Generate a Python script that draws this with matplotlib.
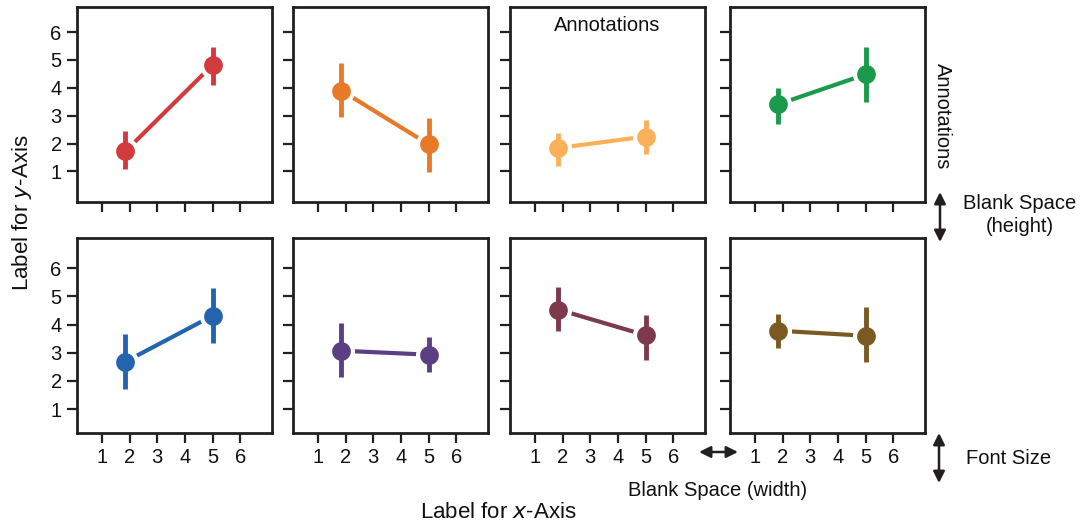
import matplotlib
matplotlib.use("Agg")
import matplotlib.pyplot as plt

plt.rcParams['font.family'] = ['Liberation Sans', 'DejaVu Sans']

# x positions of the two conditions
x_vals = [1.85, 5.0]

# one entry per panel, row by row
colors = ['#D23A3E', '#E77A28', '#FDB05A', '#1A9A4A',
          '#2265AE', '#5B3F84', '#7C3A4C', '#7A5A22']
means = [[1.72, 4.82], [3.90, 1.97], [1.84, 2.25], [3.41, 4.48],
         [2.68, 4.31], [3.07, 2.93], [4.53, 3.62], [3.78, 3.60]]
err_lo = [[1.07, 4.10], [2.95, 0.98], [1.20, 1.64], [2.69, 3.50],
          [1.71, 3.33], [2.13, 2.32], [3.76, 2.74], [3.16, 2.67]]
err_hi = [[2.44, 5.48], [4.90, 2.92], [2.38, 2.84], [3.99, 5.45],
          [3.66, 5.28], [4.05, 3.54], [5.34, 4.32], [4.38, 4.62]]

tick_vals = [1, 2, 3, 4, 5, 6]
ylims = [(-0.1, 6.9), (0.15, 7.07)]

W, H = 1081, 529
fig = plt.figure(figsize=(W / 100, H / 100), dpi=100)

col_left = [77, 293, 510, 730]
row_top = [7, 238]
ax_w, ax_h = 195, 195
ink = '#231F20'

for r in range(2):
    for c in range(4):
        i = r * 4 + c
        ax = fig.add_axes([col_left[c] / W, 1 - (row_top[r] + ax_h) / H, ax_w / W, ax_h / H])
        ax.plot(x_vals, means[i], color=colors[i], lw=3, zorder=1)
        ax.plot(x_vals, means[i], 'o', color=colors[i], ms=16.5, mec='white', mew=3, zorder=2)
        ax.vlines(x_vals, err_lo[i], err_hi[i], color=colors[i], lw=3.5, zorder=3)
        ax.set_xlim(0.1, 7.15)
        ax.set_ylim(*ylims[r])
        ax.set_xticks(tick_vals)
        ax.set_yticks(tick_vals)
        ax.tick_params(direction='out', length=7, width=1.6, color=ink,
                       labelsize=14.5, labelcolor='#111', pad=4)
        if r == 0:
            ax.set_xticklabels([])
        if c > 0:
            ax.set_yticklabels([])
        for s in ax.spines.values():
            s.set_linewidth(2)
            s.set_color(ink)
        if i == 2:
            ax.text(0.5, 0.955, 'Annotations', transform=ax.transAxes,
                    ha='center', va='top', fontsize=14.5, color='#111')
        if i == 3:
            ax.text(1.09, 0.44, 'Annotations', transform=ax.transAxes,
                    ha='center', va='center', rotation=-90, fontsize=14.5, color='#111')


def fx(px):
    return px / W


def fy(py):
    return 1 - py / H


fig.text(fx(22), fy(213), 'Label for $\\it{y}$-Axis', rotation=90,
         ha='center', va='center', fontsize=16, color='#111')
fig.text(fx(498), fy(512), 'Label for $\\it{x}$-Axis',
         ha='center', va='center', fontsize=16, color='#111')

arrow = dict(arrowstyle='<|-|>', color=ink, lw=1.8, mutation_scale=17,
             shrinkA=0, shrinkB=0)
fig.add_artist(matplotlib.patches.FancyArrowPatch(
    (fx(940), fy(192)), (fx(940), fy(242)), transform=fig.transFigure, **arrow))
fig.add_artist(matplotlib.patches.FancyArrowPatch(
    (fx(939), fy(433)), (fx(939), fy(483)), transform=fig.transFigure, **arrow))
fig.add_artist(matplotlib.patches.FancyArrowPatch(
    (fx(699), fy(452)), (fx(738), fy(452)), transform=fig.transFigure, **arrow))

fig.text(fx(1020), fy(215), 'Blank Space\n(height)', ha='center', va='center',
         fontsize=14.5, color='#111', linespacing=1.3)
fig.text(fx(718), fy(490), 'Blank Space (width)', ha='center', va='center',
         fontsize=14.5, color='#111')
fig.text(fx(966), fy(458), 'Font Size', ha='left', va='center',
         fontsize=14.5, color='#111')

fig.savefig('out.png', dpi=100)
